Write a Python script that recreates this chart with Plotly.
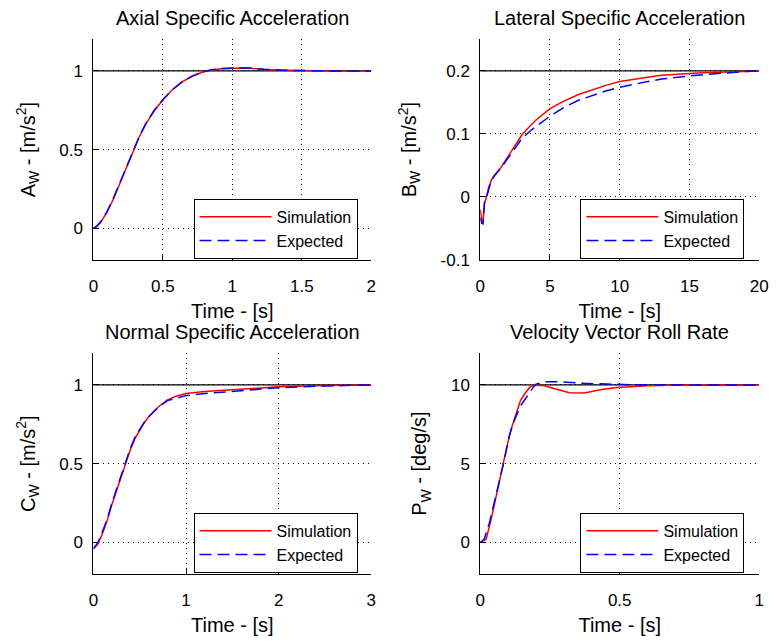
import plotly.graph_objects as go
from plotly.subplots import make_subplots

# ---------------- data ----------------
# Axial specific acceleration
ax_t_sim = [0, 0.024, 0.05, 0.094, 0.141, 0.189, 0.236, 0.283, 0.33, 0.377, 0.436, 0.5, 0.565,
            0.636, 0.707, 0.777, 0.848, 0.92, 0.99, 1.06, 1.13, 1.23, 1.37, 1.5, 1.7, 2.0]
ax_y_sim = [0, 0.012, 0.035, 0.096, 0.18, 0.283, 0.39, 0.49, 0.58, 0.662, 0.745, 0.815, 0.877,
            0.928, 0.964, 0.99, 1.006, 1.014, 1.017, 1.018, 1.017, 1.008, 1.004, 1.002, 1.0, 1.0]
ax_t_exp = [0, 0.024, 0.05, 0.094, 0.141, 0.189, 0.236, 0.283, 0.33, 0.377, 0.436, 0.5, 0.565,
            0.636, 0.707, 0.777, 0.848, 0.92, 0.99, 1.06, 1.13, 1.23, 1.37, 1.5, 1.7, 2.0]
ax_y_exp = [0, 0.014, 0.04, 0.1, 0.185, 0.288, 0.393, 0.492, 0.583, 0.665, 0.747, 0.817, 0.878,
            0.929, 0.965, 0.991, 1.007, 1.015, 1.018, 1.019, 1.018, 1.01, 1.004, 1.002, 1.0, 1.0]
ax_ref = 1.0

# Lateral specific acceleration
lat_t = [0, 0.1, 0.2, 0.3, 0.45, 0.6, 0.8, 1.0, 1.5, 2, 2.5, 3, 3.5, 4, 5, 6, 7, 8, 9, 10,
         11, 12, 13, 14, 15, 16, 17, 18, 19, 20]
lat_sim = [-0.02, -0.035, -0.04, -0.01, 0.0, 0.015, 0.027, 0.034, 0.047, 0.065, 0.082, 0.099,
           0.111, 0.122, 0.14, 0.152, 0.162, 0.17, 0.177, 0.183, 0.187, 0.19, 0.193, 0.195,
           0.196, 0.197, 0.198, 0.199, 0.1995, 0.2]
lat_exp = [-0.033, -0.042, -0.043, -0.01, 0.0, 0.013, 0.026, 0.033, 0.046, 0.062, 0.078, 0.093,
           0.103, 0.112, 0.128, 0.142, 0.153, 0.161, 0.168, 0.174, 0.179, 0.183, 0.187, 0.19,
           0.192, 0.194, 0.196, 0.197, 0.199, 0.2]
lat_ref = 0.2

# Normal specific acceleration
nor_t = [0, 0.05, 0.1, 0.15, 0.2, 0.25, 0.3, 0.35, 0.4, 0.45, 0.5, 0.55, 0.6, 0.7, 0.8, 0.9,
         1.0, 1.2, 1.5, 1.8, 2.0, 2.5, 3.0]
nor_sim = [-0.04, -0.01, 0.06, 0.14, 0.24, 0.33, 0.42, 0.51, 0.59, 0.66, 0.715, 0.76, 0.80,
           0.86, 0.905, 0.93, 0.945, 0.958, 0.969, 0.98, 0.988, 0.996, 1.0]
nor_exp = [-0.04, 0.0, 0.07, 0.15, 0.25, 0.34, 0.43, 0.52, 0.6, 0.668, 0.72, 0.765, 0.80,
           0.858, 0.9, 0.918, 0.932, 0.945, 0.958, 0.972, 0.982, 0.993, 1.0]
nor_ref = 1.0

# Velocity vector roll rate
roll_t_sim = [0, 0.021, 0.039, 0.056, 0.074, 0.092, 0.109, 0.127, 0.144, 0.162, 0.18, 0.197,
              0.23, 0.268, 0.32, 0.373, 0.43, 0.49, 0.55, 0.6, 0.7, 0.85, 1.0]
roll_y_sim = [0, 0.2, 1.46, 2.9, 4.4, 5.8, 7.1, 8.1, 9.0, 9.5, 9.9, 10.0,
              9.95, 9.75, 9.5, 9.48, 9.69, 9.83, 9.9, 9.95, 10.0, 10.0, 10.0]
roll_t_exp = [0, 0.014, 0.033, 0.05, 0.068, 0.086, 0.103, 0.121, 0.144, 0.168, 0.186, 0.2,
              0.232, 0.29, 0.373, 0.455, 0.57, 0.75, 1.0]
roll_y_exp = [0, 0.2, 1.25, 2.5, 3.75, 5.2, 6.7, 7.7, 8.65, 9.3, 9.75, 10.05,
              10.2, 10.2, 10.1, 10.05, 10.0, 10.0, 10.0]
roll_ref = 10.0

titles = ["Axial Specific Acceleration", "Lateral Specific Acceleration",
          "Normal Specific Acceleration", "Velocity Vector Roll Rate"]
ylabels = ["A<sub>W</sub> - [m/s<sup>2</sup>]", "B<sub>W</sub> - [m/s<sup>2</sup>]",
           "C<sub>W</sub> - [m/s<sup>2</sup>]", "P<sub>W</sub> - [deg/s]"]
xlabel = "Time - [s]"

x_ticks = [[0, 0.5, 1, 1.5, 2], [0, 5, 10, 15, 20], [0, 1, 2, 3], [0, 0.5, 1]]
x_ticktext = [["0", "0.5", "1", "1.5", "2"], ["0", "5", "10", "15", "20"],
              ["0", "1", "2", "3"], ["0", "0.5", "1"]]
y_ticks = [[0, 0.5, 1], [-0.1, 0, 0.1, 0.2], [0, 0.5, 1], [0, 5, 10]]
y_ticktext = [["0", "0.5", "1"], ["-0.1", "0", "0.1", "0.2"], ["0", "0.5", "1"], ["0", "5", "10"]]
x_ranges = [[0, 2], [0, 20], [0, 3], [0, 1]]
y_ranges = [[-0.2, 1.2], [-0.1, 0.25], [-0.2, 1.2], [-2, 12]]

series = [
    (ax_t_sim, ax_y_sim, ax_t_exp, ax_y_exp, ax_ref),
    (lat_t, lat_sim, lat_t, lat_exp, lat_ref),
    (nor_t, nor_sim, nor_t, nor_exp, nor_ref),
    (roll_t_sim, roll_y_sim, roll_t_exp, roll_y_exp, roll_ref),
]

# ---------------- figure ----------------
W, H = 776, 641
FONT = "Arial, Liberation Sans, Helvetica, sans-serif"

fig = make_subplots(rows=2, cols=2)

xdom = [[90 / W, 373 / W], [484 / W, 768 / W]]
ydom = [[1 - 264 / H, 1 - 40 / H], [1 - 583 / H, 1 - 359 / H]]

legend_names = ["legend", "legend2", "legend3", "legend4"]

for i, (ts, ys, te, ye, ref) in enumerate(series):
    r, c = i // 2 + 1, i % 2 + 1
    xr = x_ranges[i]
    fig.add_trace(go.Scatter(x=xr, y=[ref, ref], mode="lines",
                             line=dict(color="black", width=1.2), showlegend=False,
                             hoverinfo="skip"), row=r, col=c)
    fig.add_trace(go.Scatter(x=ts, y=ys, mode="lines", name="Simulation",
                             line=dict(color="#ff0000", width=1.5),
                             legend=legend_names[i]), row=r, col=c)
    fig.add_trace(go.Scatter(x=te, y=ye, mode="lines", name="Expected",
                             line=dict(color="#0000ff", width=1.5, dash="12px,6px"),
                             legend=legend_names[i]), row=r, col=c)

    xd = xdom[c - 1]
    yd = ydom[r - 1]
    fig.update_xaxes(domain=xd, range=xr, tickvals=x_ticks[i], ticktext=x_ticktext[i],
                     showline=True, linecolor="black", linewidth=1, mirror=False,
                     ticks="inside", ticklen=5, tickcolor="black",
                     showgrid=True, gridcolor="black", griddash="1px,4px", gridwidth=1,
                     zeroline=False, ticklabelstandoff=11,
                     tickfont=dict(family=FONT, size=17, color="black"),
                     title=dict(text=xlabel, font=dict(family=FONT, size=20, color="black"),
                                standoff=8),
                     row=r, col=c)
    fig.update_yaxes(domain=yd, range=y_ranges[i], tickvals=y_ticks[i], ticktext=y_ticktext[i],
                     showline=True, linecolor="black", linewidth=1, mirror=False,
                     ticks="inside", ticklen=5, tickcolor="black",
                     showgrid=True, gridcolor="black", griddash="1px,4px", gridwidth=1,
                     zeroline=False, ticklabelstandoff=6,
                     tickfont=dict(family=FONT, size=17, color="black"),
                     title=dict(text=ylabels[i], font=dict(family=FONT, size=20, color="black"),
                                standoff=18),
                     row=r, col=c)

    # subplot title
    fig.add_annotation(text=titles[i], xref="paper", yref="paper",
                       x=(xd[0] + xd[1]) / 2, y=yd[1] + 9 / H,
                       xanchor="center", yanchor="bottom", showarrow=False,
                       font=dict(family=FONT, size=20, color="black"))

# legends (one per subplot, inside bottom-right)
legend_boxes = [(192, 202), (586, 202), (192, 521), (586, 521)]
leg_layout = {}
for name, (lx, ly) in zip(legend_names, legend_boxes):
    leg_layout[name] = dict(x=lx / W, y=1 - ly / H, xanchor="left", yanchor="top",
                            bgcolor="white", bordercolor="black", borderwidth=1,
                            font=dict(family=FONT, size=16, color="black"),
                            itemwidth=72, tracegroupgap=0,
                            entrywidth=170, entrywidthmode="pixels")

fig.update_layout(width=W, height=H, margin=dict(l=0, r=0, t=0, b=0),
                  plot_bgcolor="white", paper_bgcolor="white",
                  font=dict(family=FONT, color="black"),
                  **leg_layout)

fig.write_html("out.html")
